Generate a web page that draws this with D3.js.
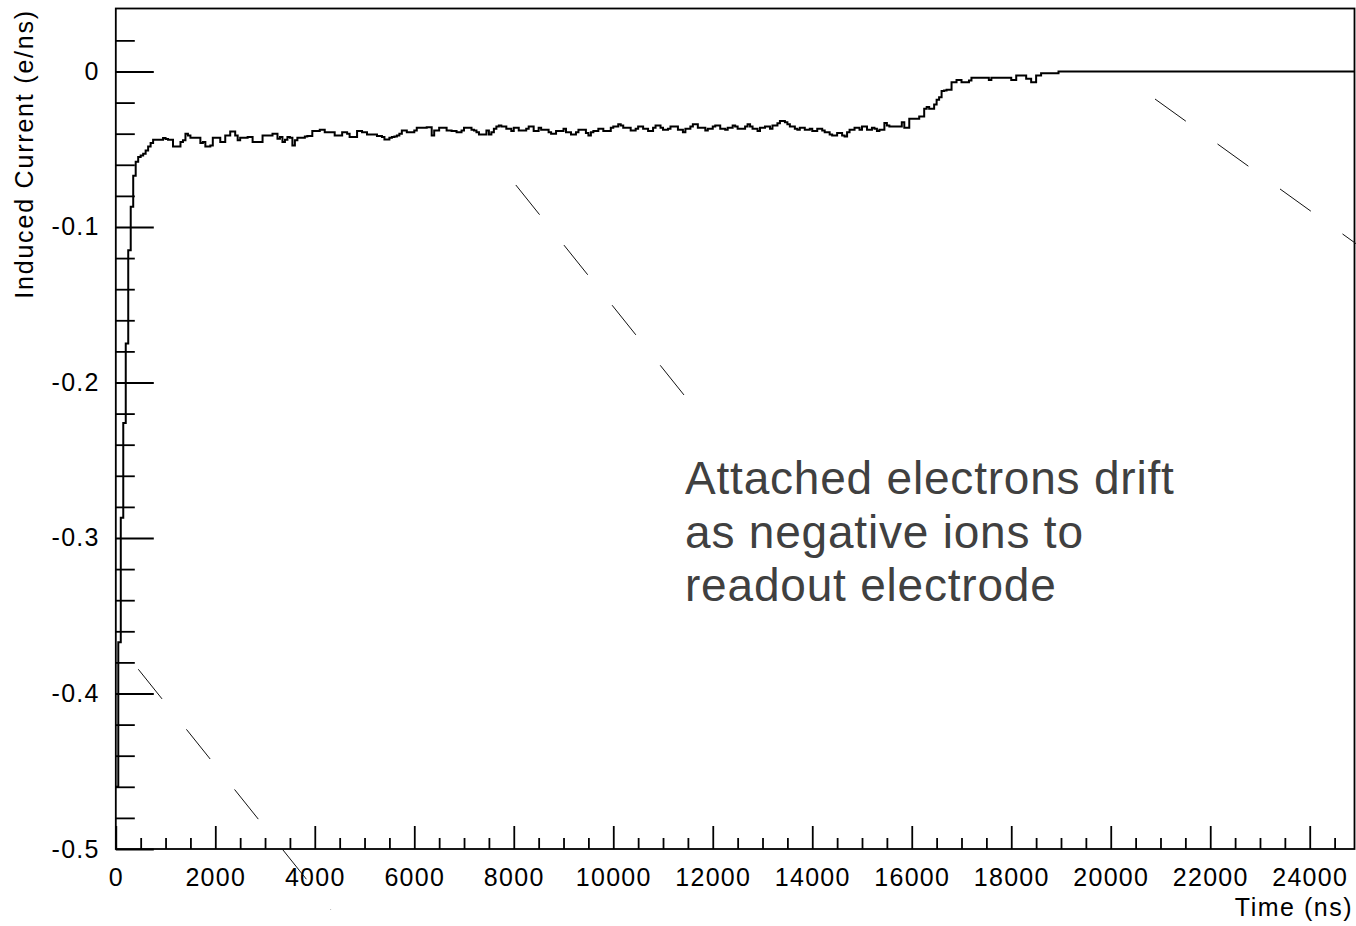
<!DOCTYPE html>
<html>
<head>
<meta charset="utf-8">
<script src="https://cdn.jsdelivr.net/npm/d3@7"></script>
<style>
  html, body { margin: 0; padding: 0; background: #fff; }
  svg { display: block; }
  .tick text { font-family: "Liberation Sans", Arial, sans-serif; font-size: 25px; letter-spacing: 1.3px; fill: #000; }
  .title { font-family: "Liberation Sans", Arial, sans-serif; font-size: 25px; letter-spacing: 1.5px; fill: #000; }
  .title.vertical { letter-spacing: 1.8px; }
  .note { font-family: "Liberation Sans", Arial, sans-serif; font-size: 46px; letter-spacing: 0.8px; fill: #404040; }
</style>
</head>
<body>
<svg id="chart" width="1356" height="926"></svg>
<script>
// Histogram binning: 50 ns wide bins starting at t = 0
const binWidth = 50;

// Induced current per bin (e/ns)
const current = [
  -0.460, -0.367, -0.287, -0.226, -0.175, -0.115, -0.087, -0.067, -0.058, -0.055,
  -0.0540, -0.0529, -0.0508, -0.0482, -0.0460, -0.0439, -0.0439, -0.0439, -0.0439, -0.0428,
  -0.0435, -0.0439, -0.0439, -0.0482, -0.0482, -0.0482, -0.0454, -0.0443, -0.0401, -0.0411,
  -0.0426, -0.0426, -0.0426, -0.0426, -0.0460, -0.0454, -0.0482, -0.0482, -0.0476, -0.0426,
  -0.0426, -0.0426, -0.0454, -0.0454, -0.0411, -0.0411, -0.0386, -0.0386, -0.0411, -0.0443,
  -0.0426, -0.0426, -0.0426, -0.0422, -0.0422, -0.0454, -0.0454, -0.0454, -0.0454, -0.0411,
  -0.0411, -0.0411, -0.0411, -0.0401, -0.0401, -0.0433, -0.0422, -0.0454, -0.0439, -0.0422,
  -0.0426, -0.0476, -0.0443, -0.0426, -0.0426, -0.0426, -0.0418, -0.0415, -0.0415, -0.0383,
  -0.0383, -0.0383, -0.0375, -0.0375, -0.0390, -0.0390, -0.0390, -0.0390, -0.0411, -0.0411,
  -0.0411, -0.0390, -0.0390, -0.0401, -0.0422, -0.0422, -0.0422, -0.0383, -0.0383, -0.0390,
  -0.0390, -0.0405, -0.0405, -0.0405, -0.0405, -0.0415, -0.0415, -0.0422, -0.0437, -0.0437,
  -0.0426, -0.0422, -0.0418, -0.0411, -0.0401, -0.0379, -0.0379, -0.0390, -0.0390, -0.0390,
  -0.0379, -0.0362, -0.0362, -0.0362, -0.0362, -0.0358, -0.0358, -0.0411, -0.0379, -0.0379,
  -0.0362, -0.0362, -0.0362, -0.0379, -0.0379, -0.0383, -0.0383, -0.0390, -0.0390, -0.0379,
  -0.0362, -0.0362, -0.0362, -0.0375, -0.0379, -0.0390, -0.0405, -0.0405, -0.0405, -0.0379,
  -0.0405, -0.0390, -0.0368, -0.0354, -0.0347, -0.0354, -0.0354, -0.0368, -0.0368, -0.0383,
  -0.0362, -0.0362, -0.0379, -0.0379, -0.0379, -0.0368, -0.0354, -0.0354, -0.0383, -0.0383,
  -0.0362, -0.0375, -0.0375, -0.0375, -0.0390, -0.0401, -0.0401, -0.0383, -0.0383, -0.0383,
  -0.0368, -0.0390, -0.0390, -0.0405, -0.0405, -0.0390, -0.0375, -0.0375, -0.0375, -0.0395,
  -0.0411, -0.0390, -0.0383, -0.0383, -0.0368, -0.0368, -0.0383, -0.0383, -0.0383, -0.0362,
  -0.0354, -0.0354, -0.0340, -0.0347, -0.0362, -0.0362, -0.0362, -0.0379, -0.0379, -0.0368,
  -0.0354, -0.0354, -0.0368, -0.0368, -0.0383, -0.0383, -0.0362, -0.0347, -0.0347, -0.0362,
  -0.0375, -0.0375, -0.0368, -0.0354, -0.0354, -0.0354, -0.0375, -0.0375, -0.0390, -0.0368,
  -0.0368, -0.0354, -0.0340, -0.0340, -0.0362, -0.0362, -0.0362, -0.0379, -0.0368, -0.0368,
  -0.0354, -0.0347, -0.0347, -0.0368, -0.0368, -0.0375, -0.0362, -0.0362, -0.0347, -0.0354,
  -0.0368, -0.0368, -0.0368, -0.0354, -0.0340, -0.0354, -0.0368, -0.0368, -0.0383, -0.0362,
  -0.0362, -0.0354, -0.0354, -0.0368, -0.0347, -0.0347, -0.0333, -0.0318, -0.0318, -0.0326,
  -0.0340, -0.0354, -0.0354, -0.0368, -0.0375, -0.0362, -0.0362, -0.0375, -0.0375, -0.0368,
  -0.0383, -0.0383, -0.0368, -0.0368, -0.0379, -0.0390, -0.0390, -0.0405, -0.0411, -0.0411,
  -0.0395, -0.0395, -0.0411, -0.0418, -0.0390, -0.0375, -0.0375, -0.0362, -0.0362, -0.0375,
  -0.0354, -0.0354, -0.0375, -0.0375, -0.0362, -0.0368, -0.0383, -0.0375, -0.0375, -0.0332,
  -0.0347, -0.0354, -0.0354, -0.0354, -0.0354, -0.0354, -0.0326, -0.0362, -0.0362, -0.0304,
  -0.0304, -0.0304, -0.0304, -0.0289, -0.0289, -0.0240, -0.0229, -0.0240, -0.0240, -0.0212,
  -0.0182, -0.0165, -0.0126, -0.0122, -0.0118, -0.0118, -0.0069, -0.0069, -0.0054, -0.0054,
  -0.0069, -0.0069, -0.0069, -0.0058, -0.0041, -0.0041, -0.0041, -0.0041, -0.0041, -0.0041,
  -0.0041, -0.0054, -0.0041, -0.0041, -0.0041, -0.0041, -0.0041, -0.0041, -0.0041, -0.0041,
  -0.0054, -0.0054, -0.0026, -0.0026, -0.0026, -0.0026, -0.0047, -0.0047, -0.0069, -0.0069,
  -0.0026, -0.0026, -0.0011, -0.0011, -0.0011, -0.0011, -0.0011, -0.0011, -0.0011, 0,
  0, 0, 0, 0, 0, 0, 0, 0, 0, 0,
  0, 0, 0, 0, 0, 0, 0, 0, 0, 0,
  0, 0, 0, 0, 0, 0, 0, 0, 0, 0,
  0, 0, 0, 0, 0, 0, 0, 0, 0, 0,
  0, 0, 0, 0, 0, 0, 0, 0, 0, 0,
  0, 0, 0, 0, 0, 0, 0, 0, 0, 0,
  0, 0, 0, 0, 0, 0, 0, 0, 0, 0,
  0, 0, 0, 0, 0, 0, 0, 0, 0, 0,
  0, 0, 0, 0, 0, 0, 0, 0, 0, 0,
  0, 0, 0, 0, 0, 0, 0, 0, 0, 0,
  0, 0, 0, 0, 0, 0, 0, 0, 0, 0,
  0, 0, 0, 0, 0, 0, 0, 0, 0, 0
];

// Axis ranges and ticks
const xDomain = [0, 24900];
const yDomain = [-0.5, 0.0405];
const xMajorTicks = [0, 2000, 4000, 6000, 8000, 10000, 12000, 14000, 16000, 18000, 20000, 22000, 24000];
const xMinorTicks = [500, 1000, 1500, 2500, 3000, 3500, 4500, 5000, 5500, 6500, 7000, 7500,
  8500, 9000, 9500, 10500, 11000, 11500, 12500, 13000, 13500, 14500, 15000, 15500,
  16500, 17000, 17500, 18500, 19000, 19500, 20500, 21000, 21500, 22500, 23000, 23500, 24500];
const yMajorTicks = [0, -0.1, -0.2, -0.3, -0.4, -0.5];
const yMinorTicks = [0.02, -0.02, -0.04, -0.06, -0.08, -0.12, -0.14, -0.16, -0.18,
  -0.22, -0.24, -0.26, -0.28, -0.32, -0.34, -0.36, -0.38, -0.42, -0.44, -0.46, -0.48];
const yTickLabels = ["0", "-0.1", "-0.2", "-0.3", "-0.4", "-0.5"];

const xTitle = "Time (ns)";
const yTitle = "Induced Current (e/ns)";
const noteLines = ["Attached electrons drift", "as negative ions to", "readout electrode"];

// Dashed pointer lines, in (time, current) coordinates
const pointers = [
  { from: [452, -0.3844], to: [4326, -0.5392] },
  { from: [8041, -0.0730], to: [11904, -0.2273] },
  { from: [20890, -0.0177], to: [25051, -0.1135] }
];

const svg = d3.select("#chart");
const frame = { left: 115.8, right: 1354.5, top: 8.5, bottom: 849 };

const x = d3.scaleLinear().domain(xDomain).range([frame.left, frame.right]);
const y = d3.scaleLinear().domain(yDomain).range([frame.bottom, frame.top]);

svg.append("defs").append("clipPath").attr("id", "frameClip")
  .append("rect")
  .attr("x", frame.left).attr("y", frame.top)
  .attr("width", frame.right - frame.left).attr("height", frame.bottom - frame.top);

// Step histogram outline
const pts = current.map((v, i) => [i * binWidth, v]);
pts.push([current.length * binWidth, current[current.length - 1]]);
const line = d3.line()
  .x(d => x(d[0]))
  .y(d => y(d[1]))
  .curve(d3.curveStepAfter);

svg.append("path")
  .attr("clip-path", "url(#frameClip)")
  .attr("d", line(pts))
  .attr("fill", "none")
  .attr("stroke", "#000")
  .attr("stroke-width", 2)
  .attr("stroke-linejoin", "miter");

// X axis: major ticks with labels, minor ticks without
const xAxisG = svg.append("g").attr("transform", `translate(0,${frame.bottom})`);
xAxisG.append("g")
  .call(d3.axisBottom(x).tickValues(xMinorTicks).tickFormat("").tickSizeInner(-11).tickSizeOuter(0))
  .call(g => g.select(".domain").remove());
xAxisG.append("g")
  .call(d3.axisBottom(x).tickValues(xMajorTicks).tickFormat(d3.format("d")).tickSizeInner(-23).tickSizeOuter(0).tickPadding(19))
  .call(g => g.select(".domain").remove());

// Y axis
const yAxisG = svg.append("g").attr("transform", `translate(${frame.left},0)`);
yAxisG.append("g")
  .call(d3.axisLeft(y).tickValues(yMinorTicks).tickFormat("").tickSizeInner(-19).tickSizeOuter(0))
  .call(g => g.select(".domain").remove());
yAxisG.append("g")
  .call(d3.axisLeft(y).tickValues(yMajorTicks).tickFormat((d, i) => yTickLabels[i]).tickSizeInner(-38).tickSizeOuter(0).tickPadding(16))
  .call(g => g.select(".domain").remove());

svg.selectAll(".tick line").attr("stroke", "#000").attr("stroke-width", 1.8);

// Frame
svg.append("rect")
  .attr("x", frame.left).attr("y", frame.top)
  .attr("width", frame.right - frame.left).attr("height", frame.bottom - frame.top)
  .attr("fill", "none").attr("stroke", "#000").attr("stroke-width", 1.8);

// Axis titles
svg.append("text").attr("class", "title")
  .attr("x", 1353).attr("y", 916).attr("text-anchor", "end")
  .text(xTitle);
svg.append("text").attr("class", "title vertical")
  .attr("transform", "translate(33,9) rotate(-90)")
  .attr("text-anchor", "end")
  .text(yTitle);

// Annotation text
const note = svg.append("text").attr("class", "note")
  .attr("x", 685).attr("y", 494);
note.selectAll("tspan").data(noteLines).join("tspan")
  .attr("x", 685)
  .attr("dy", (d, i) => i === 0 ? 0 : 53.5)
  .text(d => d);

// Dashed pointers
svg.selectAll("line.pointer").data(pointers).join("line")
  .attr("class", "pointer")
  .attr("x1", d => x(d.from[0])).attr("y1", d => y(d.from[1]))
  .attr("x2", d => x(d.to[0])).attr("y2", d => y(d.to[1]))
  .attr("stroke", "#111")
  .attr("stroke-width", 1)
  .attr("stroke-dasharray", "38 39");
</script>
</body>
</html>
